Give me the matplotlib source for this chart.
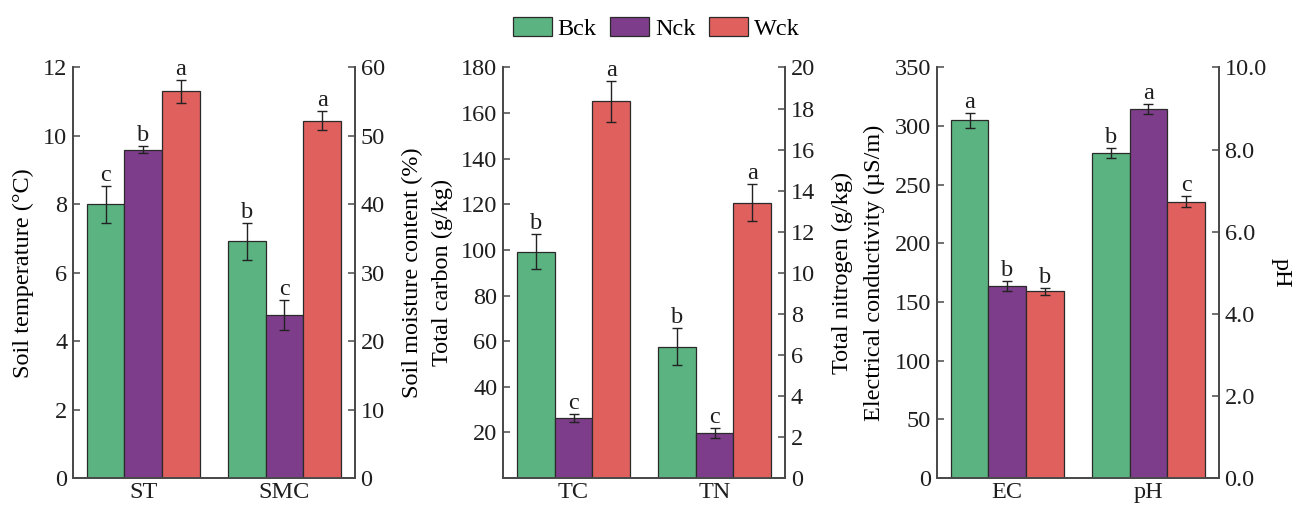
import numpy as np
import matplotlib
matplotlib.use('Agg')
import matplotlib.pyplot as plt
from matplotlib.patches import Patch

plt.rcParams['font.family'] = ['Liberation Serif', 'DejaVu Serif']
FS = 17.5
plt.rcParams['font.size'] = FS

treatments = ['Bck', 'Nck', 'Wck']
colors = ['#5BB381', '#7E3D8A', '#E0605E']

# soil temperature (°C) and soil moisture content (%)
st_mean = [8.0, 9.6, 11.3]
st_err = [0.55, 0.1, 0.33]
st_sig = ['c', 'b', 'a']
smc_mean = [34.6, 23.8, 52.2]
smc_err = [2.7, 2.2, 1.4]
smc_sig = ['b', 'c', 'a']

# total carbon and total nitrogen (g/kg)
tc_mean = [99.2, 26.3, 165.1]
tc_err = [7.6, 1.6, 9.0]
tc_sig = ['b', 'c', 'a']
tn_mean = [6.4, 2.2, 13.4]
tn_err = [0.9, 0.25, 0.9]
tn_sig = ['b', 'c', 'a']

# electrical conductivity (µS/m) and pH
ec_mean = [304.8, 163.9, 159.1]
ec_err = [6.0, 4.3, 3.0]
ec_sig = ['a', 'b', 'b']
ph_mean = [7.92, 8.99, 6.73]
ph_err = [0.13, 0.12, 0.13]
ph_sig = ['b', 'a', 'c']

width = 0.8 / 3
spine_col = '#4a4a4a'
text_col = '#1e1e1e'


def draw_group(ax, xc, means, errs, sigs):
    for i in range(3):
        x = xc + (i - 1) * width
        ax.bar(x, means[i], width, color=colors[i], edgecolor='#2a2a2a',
               linewidth=0.9, zorder=2)
        ax.errorbar(x, means[i], yerr=errs[i], color='#222222', elinewidth=1,
                    capsize=3.5, capthick=1, zorder=3)
        ax.annotate(sigs[i], (x, means[i] + errs[i]), xytext=(0, 0),
                    textcoords='offset points', ha='center', va='bottom',
                    fontsize=FS, color=text_col)


def style(ax, ax2):
    for a in (ax, ax2):
        a.spines['top'].set_visible(False)
        for s in a.spines.values():
            s.set_color(spine_col)
            s.set_linewidth(1.3)
        a.tick_params(axis='y', direction='in', length=5, width=1.1,
                      color=spine_col, labelsize=FS, labelcolor=text_col, pad=4)
    ax.tick_params(axis='x', length=0, labelsize=FS, labelcolor=text_col, pad=3)
    ax.set_xlim(-0.5, 1.5)


fig = plt.figure(figsize=(12.99, 5.07), dpi=100)
bottom, height = 0.0572, 0.8097
lefts = [0.0560, 0.3872, 0.7211]
w = 0.2173

# panel 1
ax1 = fig.add_axes([lefts[0], bottom, w, height])
ax1b = ax1.twinx()
draw_group(ax1, 0, st_mean, st_err, st_sig)
draw_group(ax1b, 1, smc_mean, smc_err, smc_sig)
ax1.set_ylim(0, 12)
ax1.set_yticks(np.arange(0, 13, 2))
ax1b.set_ylim(0, 60)
ax1b.set_yticks(np.arange(0, 61, 10))
ax1.set_xticks([0, 1])
ax1.set_xticklabels(['ST', 'SMC'])
ax1.set_ylabel('Soil temperature (°C)', fontsize=FS, labelpad=6)
ax1b.set_ylabel('Soil moisture content (%)', fontsize=FS, labelpad=12)
style(ax1, ax1b)

# panel 2
ax2 = fig.add_axes([lefts[1], bottom, w, height])
ax2b = ax2.twinx()
draw_group(ax2, 0, tc_mean, tc_err, tc_sig)
draw_group(ax2b, 1, tn_mean, tn_err, tn_sig)
ax2.set_ylim(0, 180)
ax2.set_yticks(np.arange(20, 181, 20))
ax2b.set_ylim(0, 20)
ax2b.set_yticks(np.arange(0, 21, 2))
ax2.set_xticks([0, 1])
ax2.set_xticklabels(['TC', 'TN'])
ax2.set_ylabel('Total carbon (g/kg)', fontsize=FS, labelpad=6)
ax2b.set_ylabel('Total nitrogen (g/kg)', fontsize=FS, labelpad=12)
style(ax2, ax2b)

# panel 3
ax3 = fig.add_axes([lefts[2], bottom, w, height])
ax3b = ax3.twinx()
draw_group(ax3, 0, ec_mean, ec_err, ec_sig)
draw_group(ax3b, 1, ph_mean, ph_err, ph_sig)
ax3.set_ylim(0, 350)
ax3.set_yticks(np.arange(0, 351, 50))
ax3b.set_ylim(0, 10)
ax3b.set_yticks(np.arange(0, 10.1, 2))
ax3b.set_yticklabels([f'{v:.1f}' for v in np.arange(0, 10.1, 2)])
ax3.set_xticks([0, 1])
ax3.set_xticklabels(['EC', 'pH'])
ax3.set_ylabel('Electrical conductivity (µS/m)', fontsize=FS, labelpad=7)
ax3b.set_ylabel('pH', fontsize=FS, rotation=270, labelpad=18)
style(ax3, ax3b)

handles = [Patch(facecolor=c, edgecolor='#2a2a2a', linewidth=0.9) for c in colors]
fig.legend(handles, treatments, loc='upper center', bbox_to_anchor=(0.505, 1.0),
           ncol=3, frameon=False, fontsize=FS, handlelength=1.6, handleheight=0.8,
           handletextpad=0.25, columnspacing=0.55, borderaxespad=0.3)

fig.savefig('out.png', dpi=100)
